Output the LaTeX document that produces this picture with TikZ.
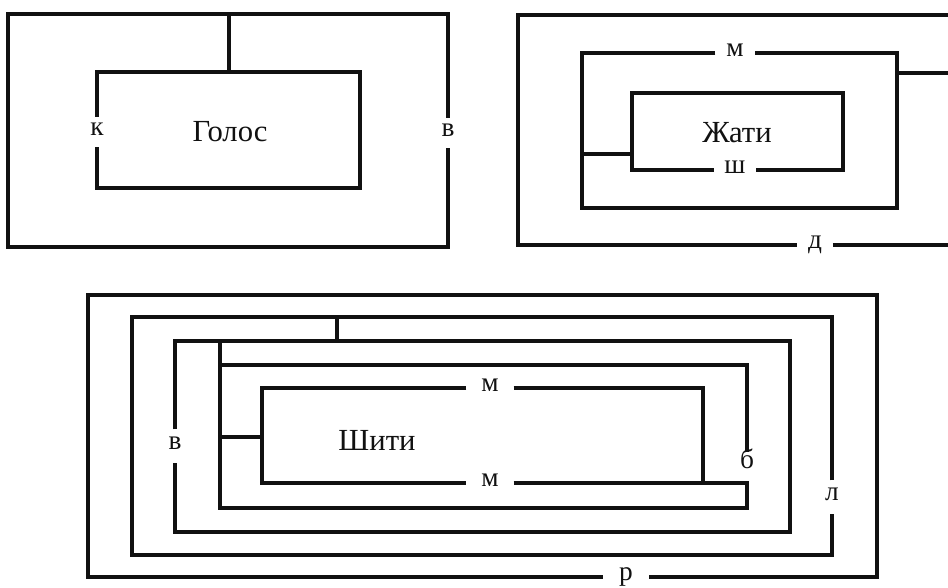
\documentclass[tikz,border=0pt]{standalone}
\usepackage{fontspec}
\setmainfont{Liberation Serif}
\usetikzlibrary{positioning}
\definecolor{ink}{HTML}{111111}
\tikzset{
  every node/.style={text=ink},
  wall/.style={line width=2.3pt,draw=ink},
  word/.style={font=\fontsize{23}{26}\selectfont},
  lbl/.style={font=\fontsize{20.5}{24}\selectfont,inner xsep=8pt,inner ysep=9pt,text height=1ex,text depth=0pt},
  widelbl/.style={lbl,inner xsep=11pt},
}

\begin{document}
\begin{tikzpicture}[x=0.75pt,y=-0.75pt]
\useasboundingbox (0,0) rectangle (948,588);

% Голос
\node[word] (golos) at (230,132) {Голос};
\node[lbl] (lk) at (97,132) {к};
\node[lbl] (lv) at (448,133) {в};
\draw[wall] (lv.north) |- (8,14) -- (8,247) -| (lv.south);
\draw[wall] (lk.north) |- (360,72) -- (360,188) -| (lk.south);
\draw[wall] (229,72) -- (229,14);

% Жати
\node[word] (zhaty) at (737,133) {Жати};
\node[lbl] (lm) at (735,53) {м};
\node[lbl] (lsh) at (735,170) {ш};
\node[lbl] (ld) at (815,245) {д};
\draw[wall] (952,15) -| (518,245) -- (ld.west);
\draw[wall] (ld.east) -- (952,245);
\draw[wall] (lm.west) -| (582,208) -| (897,53) -- (lm.east);
\draw[wall] (897,73) -- (952,73);
\draw[wall] (lsh.west) -| (632,93) -| (843,170) -- (lsh.east);
\draw[wall] (582,154) -- (632,154);

% Шити
\node[word] (shyty) at (377,440) {Шити};
\node[widelbl] (lmtop) at (490,388) {м};
\node[widelbl] (lmbot) at (490,483) {м};
\node[lbl,inner ysep=7pt] (lb) at (747,465) {б};
\node[lbl,inner ysep=10pt] (lv2) at (175,446) {в};
\node[lbl,inner ysep=10pt] (ll) at (832,497) {л};
\node[widelbl,inner xsep=12pt] (lr) at (626,577) {р};
\draw[wall] (lr.west) -| (88,295) -| (877,577) -- (lr.east);
\draw[wall] (ll.north) |- (132,317) -- (132,555) -| (ll.south);
\draw[wall] (337,317) -- (337,341);
\draw[wall] (lv2.north) |- (790,341) -- (790,532) -| (lv2.south);
\draw[wall] (lb.north) |- (220,365);
\draw[wall] (lmbot.east) -- (747,483) -- (747,508) -| (220,341);
\draw[wall] (lmtop.west) -| (262,483) -- (lmbot.west);
\draw[wall] (lmtop.east) -| (703,483);
\draw[wall] (220,437) -- (262,437);

\end{tikzpicture}
\end{document}
